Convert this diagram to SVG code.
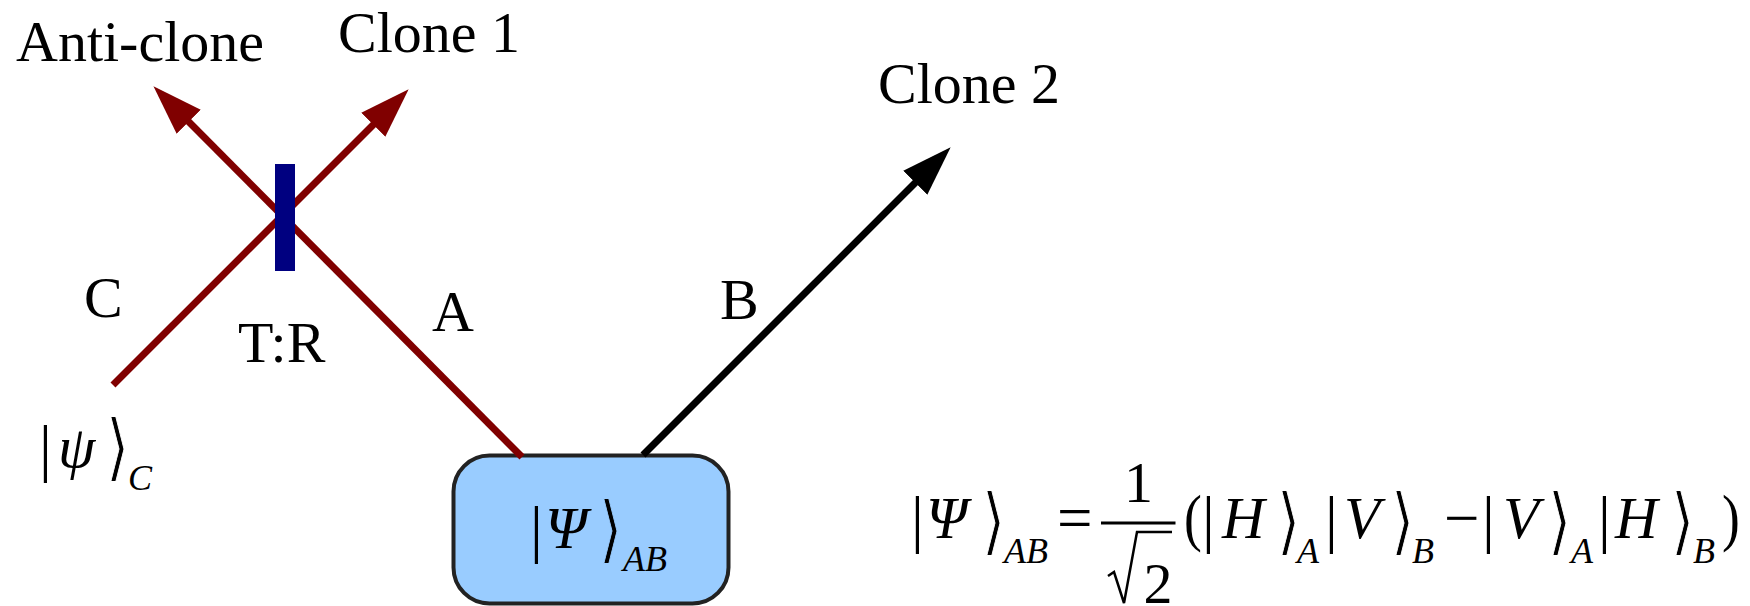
<svg xmlns="http://www.w3.org/2000/svg" width="1750" height="606" viewBox="0 0 1750 606">
<style>
text{font-family:"Liberation Serif","Times New Roman",serif;fill:#000}
.l{font-size:58px}
.v{font-size:60px;font-style:italic}
.v2{font-size:59px;font-style:italic}
.s{font-size:36px;font-style:italic}
.b{font-size:64px;font-weight:100}
.o{font-size:63px}
.c{font-family:"DejaVu Sans",sans-serif;font-size:73px;font-weight:200;stroke:#fff;stroke-width:1}
.cb{stroke:#99ccff}
.red{stroke:#800000;stroke-width:7;fill:none}
.blk{stroke:#000;stroke-width:7;fill:none}
</style>
<defs>
<marker id="hr" markerUnits="userSpaceOnUse" markerWidth="50" markerHeight="34" refX="1" refY="17" orient="auto" viewBox="0 0 50 34"><path d="M0,0L50,17L0,34z" fill="#800000"/></marker>
<marker id="hk" markerUnits="userSpaceOnUse" markerWidth="50" markerHeight="34" refX="1" refY="17" orient="auto" viewBox="0 0 50 34"><path d="M0,0L50,17L0,34z" fill="#000"/></marker>
</defs>
<g id="source">
<rect x="453.500" y="455.500" width="275" height="148" rx="36" ry="36" fill="#99ccff" stroke="#222" stroke-width="4"/>
<text><tspan class="b" x="530" y="550">|</tspan><tspan class="v" x="545" y="548">Ψ</tspan><tspan class="s" x="623" y="571">AB</tspan></text>
<text class="c cb" transform="translate(599 554) scale(.82 1)">⟩</text>
</g>
<g id="connectors">
<line class="red" x1="522" y1="457" x2="188" y2="121" marker-end="url(#hr)"/>
<line class="red" x1="113" y1="385" x2="374" y2="124" marker-end="url(#hr)"/>
<line class="blk" x1="643" y1="455" x2="916" y2="182" marker-end="url(#hk)"/>
</g>
<g id="splitter"><rect x="275" y="164" width="20" height="107" fill="#000080"/></g>
<g id="labels">
<text class="l" x="16" y="61">Anti-clone</text>
<text class="l" x="338" y="52">Clone 1</text>
<text class="l" x="878" y="103">Clone 2</text>
<text class="l" x="84" y="317">C</text>
<text class="l" x="238" y="362">T:R</text>
<text class="l" x="432" y="331">A</text>
<text class="l" x="720" y="319">B</text>
</g>
<g id="input-state">
<text><tspan class="b" x="39" y="469">|</tspan><tspan class="v" x="58" y="467">ψ</tspan><tspan class="s" x="128" y="490">C</tspan></text>
<text class="c" transform="translate(106 472) scale(.82 1)">⟩</text>
</g>
<g id="equation">
<text><tspan class="b" x="911" y="540">|</tspan><tspan class="v2" x="926" y="538">Ψ</tspan><tspan class="s" x="1004" y="563">AB</tspan><tspan class="o" x="1057" y="539">=</tspan></text>
<text class="c" transform="translate(982 546) scale(.82 1)">⟩</text>
<text class="l" x="1138.500" y="502" text-anchor="middle">1</text>
<rect x="1101" y="521.500" width="74.500" height="3" fill="#000"/>
<polyline points="1108,576 1114,572 1124,603 1137,532 1172,532" fill="none" stroke="#000" stroke-width="2.500"/>
<text class="l" x="1158" y="603" text-anchor="middle">2</text>
<text transform="translate(1184 539) scale(.85 1)" class="o">(</text>
<text><tspan class="b" x="1202" y="540">|</tspan><tspan class="v2" x="1222" y="538">H</tspan><tspan class="s" x="1297" y="563">A</tspan><tspan class="b" x="1325" y="540">|</tspan><tspan class="v2" x="1344" y="538">V</tspan><tspan class="s" x="1412" y="563">B</tspan><tspan class="o" x="1444" y="539">−</tspan><tspan class="b" x="1482" y="540">|</tspan><tspan class="v2" x="1503" y="538">V</tspan><tspan class="s" x="1571" y="563">A</tspan><tspan class="b" x="1598" y="540">|</tspan><tspan class="v2" x="1615" y="538">H</tspan><tspan class="s" x="1693" y="563">B</tspan></text>
<text class="c" transform="translate(1276.500 546) scale(.82 1)">⟩</text>
<text class="c" transform="translate(1390.500 546) scale(.82 1)">⟩</text>
<text class="c" transform="translate(1547.500 546) scale(.82 1)">⟩</text>
<text class="c" transform="translate(1670.500 546) scale(.82 1)">⟩</text>
<text transform="translate(1722 539) scale(.85 1)" class="o">)</text>
</g>
</svg>
